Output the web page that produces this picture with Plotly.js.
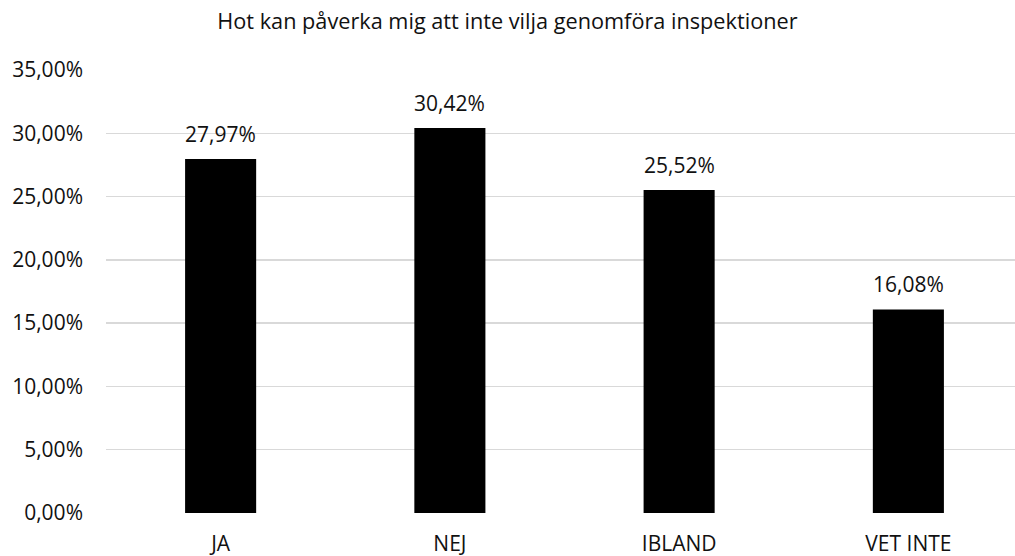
<!DOCTYPE html>
<html>
<head>
<meta charset="utf-8">
<script src="https://cdn.plot.ly/plotly-3.0.1.min.js"></script>
<style>html,body{margin:0;padding:0;overflow:hidden;background:#fff;}</style>
</head>
<body>
<div id="chart"></div>
<script>
const categories = ["JA", "NEJ", "IBLAND", "VET INTE"];
const values = [0.2797, 0.3042, 0.2552, 0.1608];
const labels = ["27,97%", "30,42%", "25,52%", "16,08%"];
const titleText = "Hot kan påverka mig att inte vilja genomföra inspektioner";

const font = "'Open Sans', sans-serif";
const annotations = categories.map((c, i) => ({
  x: c, y: values[i], text: labels[i], showarrow: false,
  yanchor: "bottom", yshift: 9,
  font: {family: font, size: 21, color: "#111111"}
}));

Plotly.newPlot("chart", [{
  type: "bar",
  x: categories,
  y: values,
  width: 0.31,
  marker: {color: "#000000"},
  hoverinfo: "x+y"
}], {
  width: 1023, height: 556,
  margin: {l: 106, r: 0, t: 70, b: 42.5},
  separators: ", ",
  paper_bgcolor: "#ffffff", plot_bgcolor: "#ffffff",
  title: {text: titleText, font: {family: font, size: 21.7, color: "#111111"}, x: 0.496, xref: "container", xanchor: "center", y: 0.962, yanchor: "middle"},
  xaxis: {tickfont: {family: font, size: 21, color: "#111111"}, showgrid: false, zeroline: false, showline: false, ticks: "", ticklabelstandoff: 16},
  yaxis: {range: [0, 0.35], dtick: 0.05, tickformat: ".2%", showgrid: true, gridcolor: "#d9d9d9", gridwidth: 1.5,
          zeroline: false, showline: false, ticks: "", ticklen: 0, ticklabelstandoff: 22,
          tickfont: {family: font, size: 21, color: "#111111"}},
  annotations: annotations,
  showlegend: false,
  bargap: 0.69
}, {displayModeBar: false, staticPlot: true});
</script>
</body>
</html>
